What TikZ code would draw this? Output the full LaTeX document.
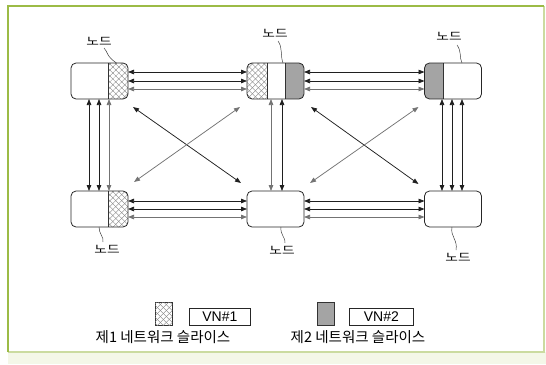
\documentclass[tikz,border=0pt]{standalone}
\usepackage{fontspec}
\setmainfont{Liberation Sans}
\newfontfamily\krfont{Noto Sans CJK KR}
\usetikzlibrary{arrows.meta,patterns.meta,calc}

\definecolor{frameg}{HTML}{9CBB46}
\definecolor{framel}{HTML}{CBDBA0}
\definecolor{paleg}{HTML}{F4F7E8}
\definecolor{slicegrey}{HTML}{A4A4A4}

\tikzset{
  box/.style={minimum width=57pt,minimum height=36pt,inner sep=0pt,outer sep=0pt},
  boxline/.style={draw=black!85,line width=0.8pt,rounded corners=5pt},
  divider/.style={draw=black!80,line width=0.7pt},
  xhatch/.style={fill=white,
    postaction={pattern={Lines[angle=45,distance=4.2pt,line width=0.35pt]},pattern color=black!50},
    postaction={pattern={Lines[angle=-45,distance=4.2pt,line width=0.35pt]},pattern color=black!50}},
  greyfill/.style={fill=slicegrey},
  tip/.tip={Triangle[length=6pt,width=4.5pt]},
  link/.style={line width=0.75pt,draw=black!88,tip-tip},
  linkg/.style={line width=0.75pt,draw=black!55,tip-tip},
  leader/.style={draw=black!75,line width=0.5pt},
  nodelabel/.style={font=\krfont\fontsize{11pt}{12pt}\selectfont,inner sep=0pt},
  legendtext/.style={font=\krfont\fontsize{14.5pt}{16pt}\selectfont,inner sep=0pt},
  vnbox/.style={draw=black!85,line width=0.8pt,minimum width=61pt,minimum height=17pt,inner sep=0pt,
    font=\fontsize{14pt}{15pt}\selectfont},
  swatch/.style={draw=black!80,line width=0.6pt,minimum width=17pt,minimum height=23pt,inner sep=0pt}
}

\begin{document}
\begin{tikzpicture}[x=1pt,y=-1pt]
\useasboundingbox (0,0) rectangle (546,364);

% page frame
\fill[paleg] (8,352) rectangle (546,364);
\draw[framel,line width=1.2pt] (544,6) -- (544,352) -- (8,352);
\draw[frameg,line width=2pt] (8,352) -- (8,6) -- (544,6);

% node boxes
\node[box] (tl) at (99.5,81) {};
\node[box] (tm) at (275.5,81) {};
\node[box] (tr) at (453,81) {};
\node[box] (bl) at (99.5,209) {};
\node[box] (bm) at (275.5,209) {};
\node[box] (br) at (453,209) {};

% slices of the first network (hatched) and second network (grey)
\begin{scope}
  \clip[rounded corners=5pt] (tl.south west) rectangle (tl.north east);
  \fill[xhatch] ([xshift=-20pt]tl.north east) rectangle (tl.south east);
\end{scope}
\begin{scope}
  \clip[rounded corners=5pt] (bl.south west) rectangle (bl.north east);
  \fill[xhatch] ([xshift=-20pt]bl.north east) rectangle (bl.south east);
\end{scope}
\begin{scope}
  \clip[rounded corners=5pt] (tm.south west) rectangle (tm.north east);
  \fill[xhatch] (tm.north west) rectangle ([xshift=20pt]tm.south west);
  \fill[greyfill] ([xshift=-19pt]tm.north east) rectangle (tm.south east);
\end{scope}
\begin{scope}
  \clip[rounded corners=5pt] (tr.south west) rectangle (tr.north east);
  \fill[greyfill] (tr.north west) rectangle ([xshift=19pt]tr.south west);
\end{scope}

\draw[divider] ([xshift=-20pt]tl.north east) -- ([xshift=-20pt]tl.south east);
\draw[divider] ([xshift=-20pt]bl.north east) -- ([xshift=-20pt]bl.south east);
\draw[divider] ([xshift=20pt]tm.north west) -- ([xshift=20pt]tm.south west);
\draw[divider] ([xshift=-19pt]tm.north east) -- ([xshift=-19pt]tm.south east);
\draw[divider] ([xshift=19pt]tr.north west) -- ([xshift=19pt]tr.south west);

\foreach \b in {tl,tm,tr,bl,bm,br}
  \draw[boxline] (\b.south west) rectangle (\b.north east);

% horizontal links, top row
\draw[link]  ([yshift=9pt]tl.east) -- ([yshift=9pt]tm.west);
\draw[link]  (tl.east) -- (tm.west);
\draw[linkg] ([yshift=-8pt]tl.east) -- ([yshift=-8pt]tm.west);
\draw[link]  ([yshift=9pt]tm.east) -- ([yshift=9pt]tr.west);
\draw[link]  (tm.east) -- (tr.west);
\draw[linkg] ([yshift=-8pt]tm.east) -- ([yshift=-8pt]tr.west);

% horizontal links, bottom row
\draw[link]  ([yshift=8pt]bl.east) -- ([yshift=8pt]bm.west);
\draw[link]  (bl.east) -- (bm.west);
\draw[linkg] ([yshift=-8pt]bl.east) -- ([yshift=-8pt]bm.west);
\draw[link]  ([yshift=8pt]bm.east) -- ([yshift=8pt]br.west);
\draw[link]  (bm.east) -- (br.west);
\draw[linkg] ([yshift=-8pt]bm.east) -- ([yshift=-8pt]br.west);

% vertical links
\draw[link]  ([xshift=-10.5pt]tl.south) -- ([xshift=-10.5pt]bl.north);
\draw[link]  ([xshift=-0.5pt]tl.south) -- ([xshift=-0.5pt]bl.north);
\draw[linkg] ([xshift=9.5pt]tl.south) -- ([xshift=9.5pt]bl.north);
\draw[linkg] ([xshift=-4.5pt]tm.south) -- ([xshift=-4.5pt]bm.north);
\draw[link]  ([xshift=6.5pt]tm.south) -- ([xshift=6.5pt]bm.north);
\draw[link]  ([xshift=-11pt]tr.south) -- ([xshift=-11pt]br.north);
\draw[link]  ([xshift=-1pt]tr.south) -- ([xshift=-1pt]br.north);
\draw[link]  ([xshift=9pt]tr.south) -- ([xshift=9pt]br.north);

% diagonal links
\draw[link]  ([shift={(5pt,-8pt)}]tl.south east) -- ([shift={(-6pt,8pt)}]bm.north west);
\draw[linkg] ([shift={(6pt,9pt)}]bl.north east) -- ([shift={(-7pt,-8pt)}]tm.south west);
\draw[link]  ([shift={(7pt,-8pt)}]tm.south east) -- ([shift={(-6pt,7pt)}]br.north west);
\draw[linkg] ([shift={(6pt,8pt)}]bm.north east) -- ([shift={(-6pt,-8pt)}]tr.south west);

% node labels with leader lines
\node[nodelabel] (ltl) at (99,41) {\scalebox{1.25}[1]{노드}};
\node[nodelabel] (ltm) at (275,33) {\scalebox{1.25}[1]{노드}};
\node[nodelabel] (ltr) at (449,36) {\scalebox{1.25}[1]{노드}};
\node[nodelabel] (lbl) at (107,249) {\scalebox{1.25}[1]{노드}};
\node[nodelabel] (lbm) at (282,250) {\scalebox{1.25}[1]{노드}};
\node[nodelabel] (lbr) at (458,257) {\scalebox{1.25}[1]{노드}};

\draw[leader] (104,48) .. controls (108,52) and (106,56) .. ([xshift=-11.5pt]tl.north east);
\draw[leader] (278,41) .. controls (283,48) and (280,55) .. ([xshift=-21pt]tm.north east);
\draw[leader] (457,45) .. controls (462,52) and (459,57) .. ([xshift=9pt]tr.north);
\draw[leader] ([xshift=-0.5pt]bl.south) .. controls (99,234) and (104,237) .. (103,242);
\draw[leader] ([xshift=5.5pt]bm.south) .. controls (280,235) and (286,238) .. (285,243);
\draw[leader] ([xshift=-1pt]br.south) .. controls (450,236) and (458,240) .. (456,250);

% legend
\node[swatch,xhatch] (s1) at (163.5,313.5) {};
\node[vnbox,anchor=west] (vn1) at (189,316.5) {VN\#1};
\node[legendtext] (t1) at (163,337) {제1 네트워크 슬라이스};
\node[swatch,greyfill] (s2) at (325.5,313.5) {};
\node[vnbox,anchor=west,minimum width=64pt] (vn2) at (349,316.5) {VN\#2};
\node[legendtext] (t2) at (358,337) {제2 네트워크 슬라이스};
\end{tikzpicture}
\end{document}
